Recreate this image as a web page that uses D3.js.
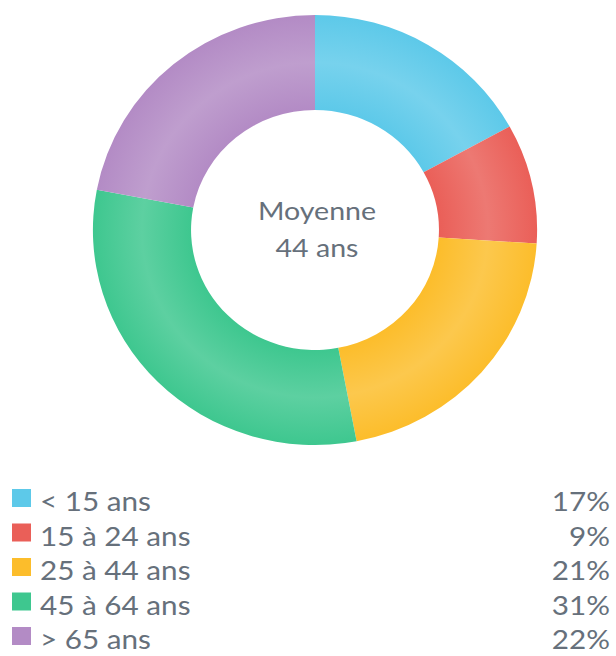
<!DOCTYPE html>
<meta charset="utf-8">
<style>
body { margin: 0; background: #fff; }
text { font-family: Lato, "Open Sans", sans-serif; fill: #66707b; }
</style>
<svg width="616" height="656"></svg>
<script src="https://d3js.org/d3.v7.min.js"></script>
<script>

// data
var labels = ["< 15 ans", "15 à 24 ans", "25 à 44 ans", "45 à 64 ans", "> 65 ans"];
var values = [17, 9, 21, 31, 22];
var colors = ["#5dc9e9", "#ea5f58", "#fcbd2b", "#3ec78f", "#b38bc5"];
var centerLines = ["Moyenne", "44 ans"];

var svg = d3.select("svg"),
    width = +svg.attr("width");

var outerR = 215, innerR = 120;
var stretch = 1.12; // text in the source is drawn wider than plain Lato

// ring shading: lighter band in the middle of the ring
var defs = svg.append("defs");
colors.forEach(function(c, i) {
  var g = defs.append("radialGradient")
      .attr("id", "grad" + i)
      .attr("gradientUnits", "userSpaceOnUse")
      .attr("cx", 0).attr("cy", 0).attr("r", outerR);
  var light = d3.interpolateRgb(c, "#ffffff")(0.16);
  g.append("stop").attr("offset", innerR / outerR).attr("stop-color", c);
  g.append("stop").attr("offset", (innerR + outerR) / 2 / outerR).attr("stop-color", light);
  g.append("stop").attr("offset", 1).attr("stop-color", c);
});

var pie = d3.pie().sort(null).value(function(d) { return d; });
var arc = d3.arc().innerRadius(innerR).outerRadius(outerR);

var donut = svg.append("g")
    .attr("transform", "translate(315,230) scale(1.033,1)");

donut.selectAll("path")
  .data(pie(values))
  .enter().append("path")
    .attr("d", arc)
    .attr("fill", function(d, i) { return "url(#grad" + i + ")"; });

svg.append("g")
    .attr("transform", "translate(317,230)")
  .selectAll("text")
  .data(centerLines)
  .enter().append("text")
    .attr("text-anchor", "middle")
    .attr("transform", function(d, i) { return "translate(0," + (-10 + i * 37) + ") scale(" + stretch + ",1)"; })
    .style("font-size", "25.5px")
    .text(function(d) { return d; });

// legend
var rowY = d3.scaleLinear().domain([0, 1]).range([489, 523.5]);

var row = svg.append("g").selectAll("g")
  .data(labels)
  .enter().append("g")
    .attr("transform", function(d, i) { return "translate(0," + rowY(i) + ")"; });

row.append("rect")
    .attr("x", 12).attr("y", 0)
    .attr("width", 19).attr("height", 18)
    .attr("fill", function(d, i) { return colors[i]; });

row.append("text")
    .attr("transform", "translate(40,22) scale(" + stretch + ",1)")
    .style("font-size", "26.5px")
    .text(function(d) { return d; });

row.append("text")
    .attr("transform", "translate(610,22) scale(" + stretch + ",1)")
    .attr("text-anchor", "end")
    .style("font-size", "26.5px")
    .text(function(d, i) { return values[i] + "%"; });

</script>
